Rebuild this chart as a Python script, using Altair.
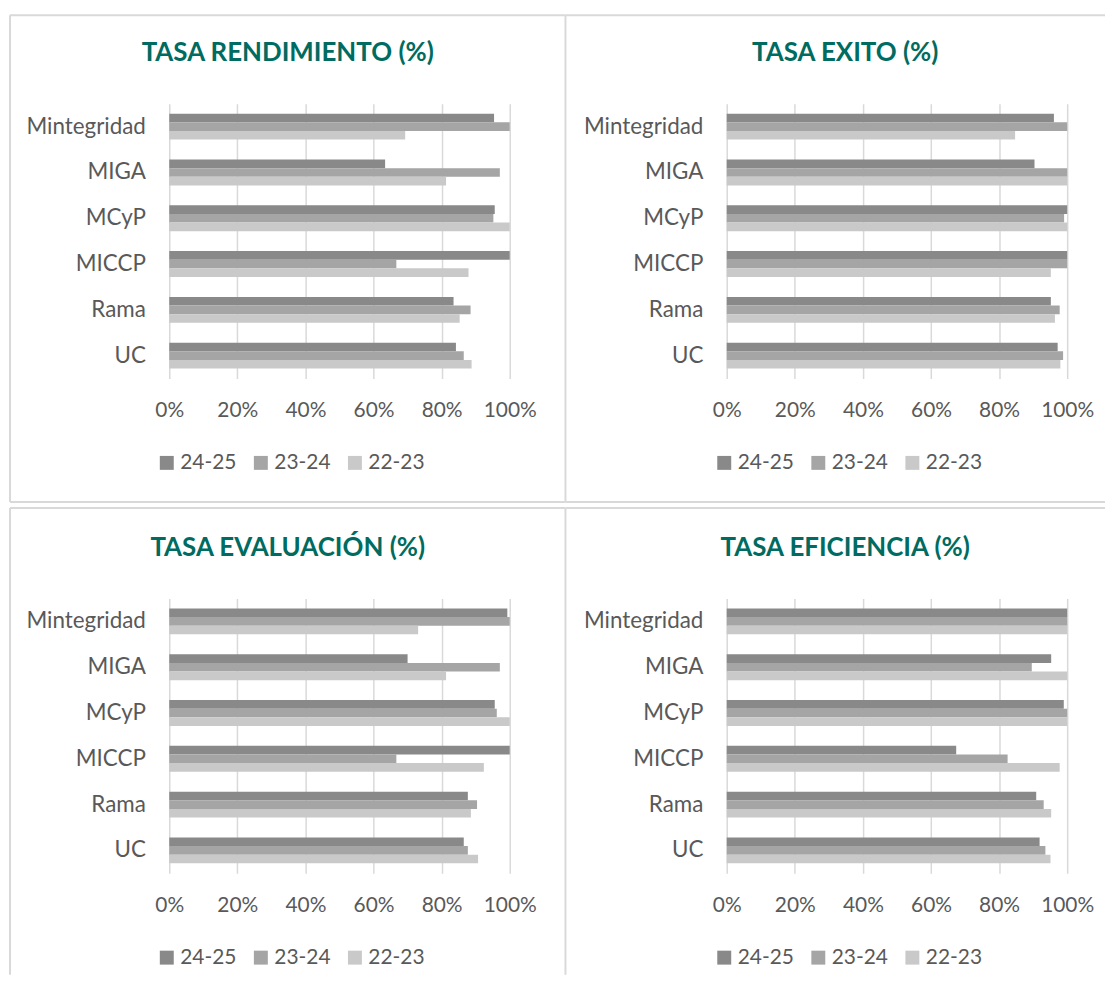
import altair as alt
import pandas as pd

# ---------------- data ----------------
categories = ["Mintegridad", "MIGA", "MCyP", "MICCP", "Rama", "UC"]
series = ["24-25", "23-24", "22-23"]
tick_values = [0, 0.2, 0.4, 0.6, 0.8, 1.0]
titles = ["TASA RENDIMIENTO (%)", "TASA EXITO (%)", "TASA EVALUACIÓN (%)", "TASA EFICIENCIA (%)"]

rendimiento_2425 = [95.4, 63.4, 95.6, 100.0, 83.5, 84.2]
rendimiento_2324 = [100.0, 97.1, 95.2, 66.7, 88.5, 86.5]
rendimiento_2223 = [69.3, 81.3, 100.0, 87.9, 85.3, 88.8]

exito_2425 = [96.1, 90.4, 100.0, 100.0, 95.2, 97.2]
exito_2324 = [100.0, 100.0, 99.1, 100.0, 97.8, 98.8]
exito_2223 = [84.7, 100.0, 100.0, 95.2, 96.4, 98.0]

evaluacion_2425 = [99.3, 70.0, 95.6, 100.0, 87.7, 86.5]
evaluacion_2324 = [100.0, 97.1, 96.2, 66.7, 90.4, 87.7]
evaluacion_2223 = [73.1, 81.3, 100.0, 92.4, 88.6, 90.7]

eficiencia_2425 = [100.0, 95.3, 99.0, 67.4, 90.9, 91.9]
eficiencia_2324 = [100.0, 89.6, 100.0, 82.5, 93.1, 93.6]
eficiencia_2223 = [100.0, 100.0, 100.0, 97.8, 95.3, 95.1]

# ---------------- style ----------------
FONT = "Lato"
TEXT = "#595959"
GRID = "#D9D9D9"
TITLE_COLOR = "#006B60"
COLORS = ["#898989", "#A5A5A5", "#C9C9C9"]


def long_df(vals):
    rows = []
    for s, arr in zip(series, vals):
        for c, v in zip(categories, arr):
            rows.append({"cat": c, "series": s, "value": v / 100.0})
    return pd.DataFrame(rows)


one = pd.DataFrame({"k": [0]})


def hline(x1, x2, y):
    return alt.Chart(one).mark_rule(color=GRID, strokeWidth=2).encode(
        x=alt.value(x1), x2=alt.value(x2), y=alt.value(y)
    )


def vline(x, y1, y2):
    return alt.Chart(one).mark_rule(color=GRID, strokeWidth=2).encode(
        x=alt.value(x), y=alt.value(y1), y2=alt.value(y2)
    )


def panel(title, vals, borders):
    df = long_df(vals)
    bars = alt.Chart(df).mark_bar().encode(
        x=alt.X(
            "value:Q",
            scale=alt.Scale(domain=[0, 1], nice=False),
            axis=alt.Axis(
                values=tick_values, format=".0%", title=None, grid=True,
                gridColor=GRID, gridWidth=1.5, domain=False, ticks=False,
                tickSize=0, labelPadding=21, labelFont=FONT, labelFontSize=21,
                labelColor=TEXT, labelOverlap=False, labelFlush=False,
                labelBound=False,
            ),
        ),
        y=alt.Y(
            "cat:N",
            sort=categories,
            scale=alt.Scale(paddingInner=0.435, paddingOuter=0.2175),
            axis=alt.Axis(
                title=None, domain=False, ticks=False, tickSize=0,
                labelPadding=24, labelFont=FONT, labelFontSize=22.5,
                labelColor=TEXT, labelOverlap=False,
            ),
        ),
        yOffset=alt.YOffset("series:N", sort=series,
                            scale=alt.Scale(paddingInner=0, paddingOuter=0)),
        color=alt.Color(
            "series:N",
            sort=series,
            scale=alt.Scale(domain=series, range=COLORS),
            legend=alt.Legend(
                title=None, orient="none", legendX=-13, legendY=350,
                direction="horizontal", symbolType="square", symbolSize=196,
                symbolStrokeWidth=0, labelFont=FONT, labelFontSize=21,
                labelColor=TEXT, labelOffset=3, columnPadding=13.5, padding=0,
            ),
        ),
    )
    ttl = alt.Chart(pd.DataFrame({"t": [title]})).mark_text(
        font=FONT, fontSize=26, fontWeight="bold", color=TITLE_COLOR,
        align="center", baseline="alphabetic",
    ).encode(x=alt.value(119), y=alt.value(-43), text="t:N")
    return alt.layer(*borders, bars, ttl).properties(width=342, height=276)


p1 = panel(titles[0], [rendimiento_2425, rendimiento_2324, rendimiento_2223],
           [hline(-160, 398, -89), hline(-160, 398, 400),
            vline(-160, -89, 400), vline(398, -89, 400)])
p2 = panel(titles[1], [exito_2425, exito_2324, exito_2223],
           [hline(-162, 380, -89), hline(-162, 380, 400)])
p3 = panel(titles[2], [evaluacion_2425, evaluacion_2324, evaluacion_2223],
           [hline(-160, 398, -91), vline(-160, -91, 378), vline(398, -91, 378)])
p4 = panel(titles[3], [eficiencia_2425, eficiencia_2324, eficiencia_2223],
           [hline(-162, 380, -91)])

chart = alt.ConcatChart(
    concat=[p1, p2, p3, p4],
    columns=2,
    spacing={"row": 221, "column": 218},
    bounds="flush",
).resolve_legend(color="independent").configure_view(
    stroke="transparent"
).properties(
    padding={"left": 0, "top": 3, "right": 0, "bottom": 0},
    background="white",
)

chart.save("out.html", embed_options={"renderer": "svg", "actions": False})
